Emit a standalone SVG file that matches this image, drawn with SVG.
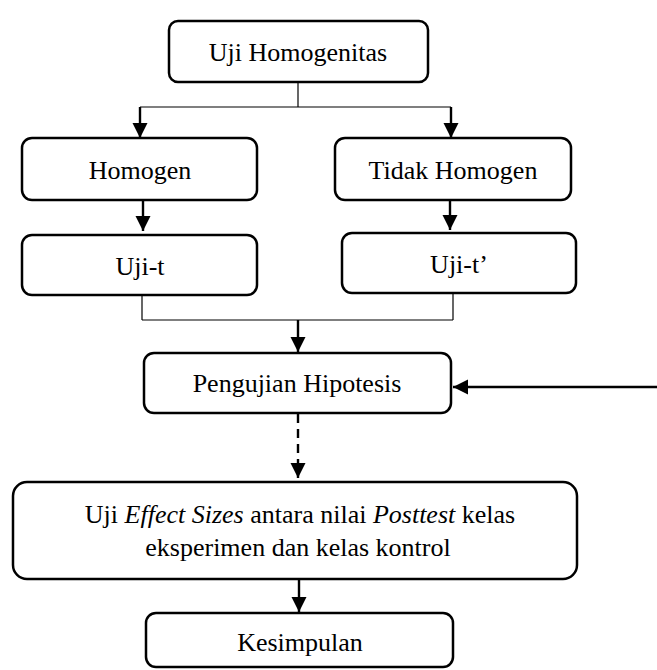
<svg xmlns="http://www.w3.org/2000/svg" width="657" height="670" viewBox="0 0 657 670">
<style>
.box{fill:#fff;stroke:#000;stroke-width:2.5}
.t{font-family:"Liberation Serif","Times New Roman",serif;font-size:26px;fill:#000;text-anchor:middle}
.thin{stroke:#000;stroke-width:1.2;fill:none}
.arr{stroke:#000;stroke-width:2.4;fill:none;marker-end:url(#ah)}
.dash{stroke-dasharray:9,6}
</style>
<defs>
<marker id="ah" markerUnits="userSpaceOnUse" markerWidth="15" markerHeight="16" viewBox="0 0 15 16" refX="15" refY="8" orient="auto">
<path d="M0,0.5 L15,8 L0,15.5 Z" fill="#000"/>
</marker>
</defs>
<g id="connectors">
<line class="thin" x1="298" y1="82" x2="298" y2="107"/>
<line class="thin" x1="140" y1="107" x2="451" y2="107"/>
<line class="arr" x1="140" y1="107" x2="140" y2="138"/>
<line class="arr" x1="451" y1="107" x2="451" y2="138"/>
<line class="arr" x1="143" y1="200" x2="143" y2="231"/>
<line class="arr" x1="450" y1="200" x2="450" y2="230"/>
<line class="thin" x1="142" y1="295" x2="142" y2="320"/>
<line class="thin" x1="142" y1="320" x2="453" y2="320"/>
<line class="thin" x1="453" y1="293" x2="453" y2="320"/>
<line class="arr" x1="298" y1="320" x2="298" y2="352"/>
<line class="arr" x1="657" y1="387" x2="453" y2="387"/>
<line class="arr dash" x1="298" y1="414" x2="298" y2="478"/>
<line class="arr" x1="299" y1="580" x2="299" y2="612"/>
</g>
<g id="uji-homogenitas">
<rect class="box" x="169" y="21" width="259" height="61" rx="9"/>
<text class="t" x="298" y="61">Uji Homogenitas</text>
</g>
<g id="homogen">
<rect class="box" x="22" y="138" width="235" height="62" rx="10"/>
<text class="t" x="140" y="179">Homogen</text>
</g>
<g id="tidak-homogen">
<rect class="box" x="335" y="138" width="236" height="62" rx="10"/>
<text class="t" x="453" y="179">Tidak Homogen</text>
</g>
<g id="uji-t">
<rect class="box" x="22" y="235" width="235" height="60" rx="10"/>
<text class="t" x="140" y="275">Uji-t</text>
</g>
<g id="uji-t-prime">
<rect class="box" x="342" y="233" width="234" height="60" rx="10"/>
<text class="t" x="459" y="273">Uji-t’</text>
</g>
<g id="pengujian-hipotesis">
<rect class="box" x="144" y="353" width="307" height="60" rx="10"/>
<text class="t" x="297" y="392">Pengujian Hipotesis</text>
</g>
<g id="uji-effect-sizes">
<rect class="box" x="13" y="482" width="564" height="97" rx="14"/>
<text class="t" x="300" y="523">Uji <tspan font-style="italic">Effect Sizes</tspan> antara nilai <tspan font-style="italic">Posttest</tspan> kelas</text>
<text class="t" x="298" y="556">eksperimen dan kelas kontrol</text>
</g>
<g id="kesimpulan">
<rect class="box" x="146" y="613" width="307" height="54" rx="10"/>
<text class="t" x="300" y="651">Kesimpulan</text>
</g>
</svg>
